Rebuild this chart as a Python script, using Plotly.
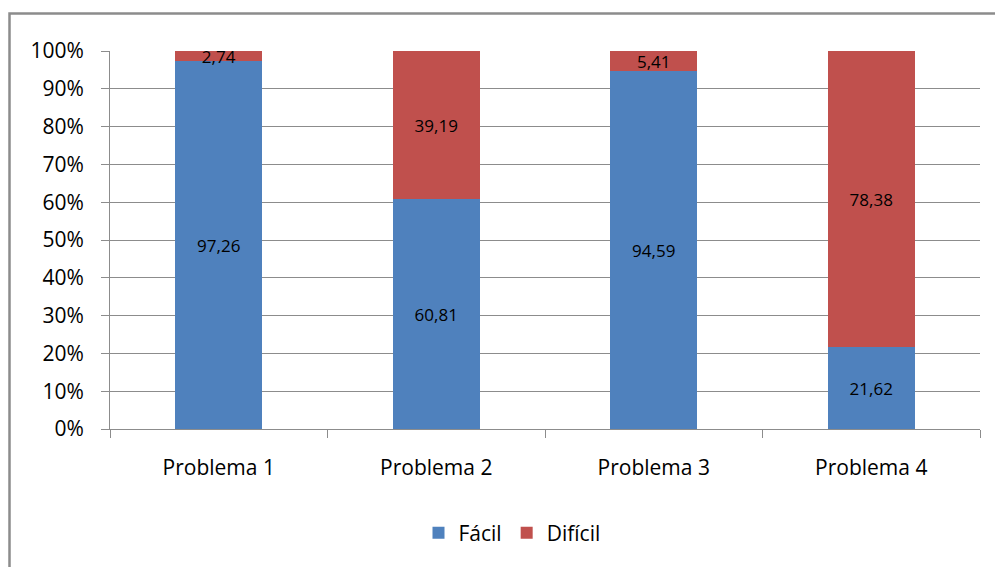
import plotly.graph_objects as go

categories = ["Problema 1", "Problema 2", "Problema 3", "Problema 4"]
facil = [97.26, 60.81, 94.59, 21.62]
dificil = [2.74, 39.19, 5.41, 78.38]
series_names = ["Fácil", "Difícil"]
y_ticks = list(range(0, 101, 10))
y_tick_labels = [f"{v}%" for v in y_ticks]

# the page body adds an 8px offset; figure sized to fill the rest of the window
OFF = 8
W, H = 1003 - OFF, 567 - OFF
# plot area in reference (window) pixels
RL, RR, RT, RB = 110, 980, 51, 429
L, R, T, B = RL - OFF, RR - OFF, RT - OFF, RB - OFF

def px_x(p):
    return (p - RL) / (RR - RL)

def px_y(p):
    return (RB - p) / (RB - RT)

font_family = "Open Sans, Carlito, Calibri, sans-serif"

fig = go.Figure()
for name, vals, col in [(series_names[0], facil, "#4F81BD"), (series_names[1], dificil, "#C0504D")]:
    fig.add_trace(go.Bar(
        x=categories, y=vals, name=name,
        marker=dict(color=col, line=dict(width=0)),
        texttemplate="%{y:.2f}", textposition="inside",
        insidetextanchor="middle", textangle=0, constraintext="none",
        insidetextfont=dict(color="black", size=17, family=font_family),
        cliponaxis=False,
    ))

fig.update_layout(
    barmode="stack", bargap=0.6,
    width=W, height=H,
    margin=dict(l=L, r=W - R, t=T, b=H - B),
    paper_bgcolor="white", plot_bgcolor="white",
    separators=",.",
    font=dict(family=font_family, size=21, color="black"),
    showlegend=True,
    legend=dict(orientation="h", x=px_x(512), xanchor="center", y=px_y(533), yanchor="middle",
                font=dict(size=21), traceorder="normal", itemwidth=30),
    shapes=[dict(type="rect", xref="paper", yref="paper",
                 x0=px_x(9.5), x1=px_x(1012), y0=px_y(13.5), y1=px_y(580),
                 line=dict(color="#8C8C8C", width=2.5), fillcolor="rgba(0,0,0,0)", layer="below")],
)
fig.update_yaxes(range=[0, 100], tickvals=y_ticks, ticktext=y_tick_labels,
                 showgrid=True, gridcolor="#8C8C8C", gridwidth=1,
                 showline=True, linecolor="#8C8C8C", linewidth=1,
                 ticks="outside", ticklen=8, tickcolor="#8C8C8C",
                 ticklabelstandoff=13, zeroline=False, fixedrange=True)
fig.update_xaxes(showline=True, linecolor="#8C8C8C", linewidth=1,
                 ticks="outside", ticklen=8, tickcolor="#8C8C8C", tickson="boundaries",
                 ticklabelstandoff=20, showgrid=False)

fig.write_html("out.html")
